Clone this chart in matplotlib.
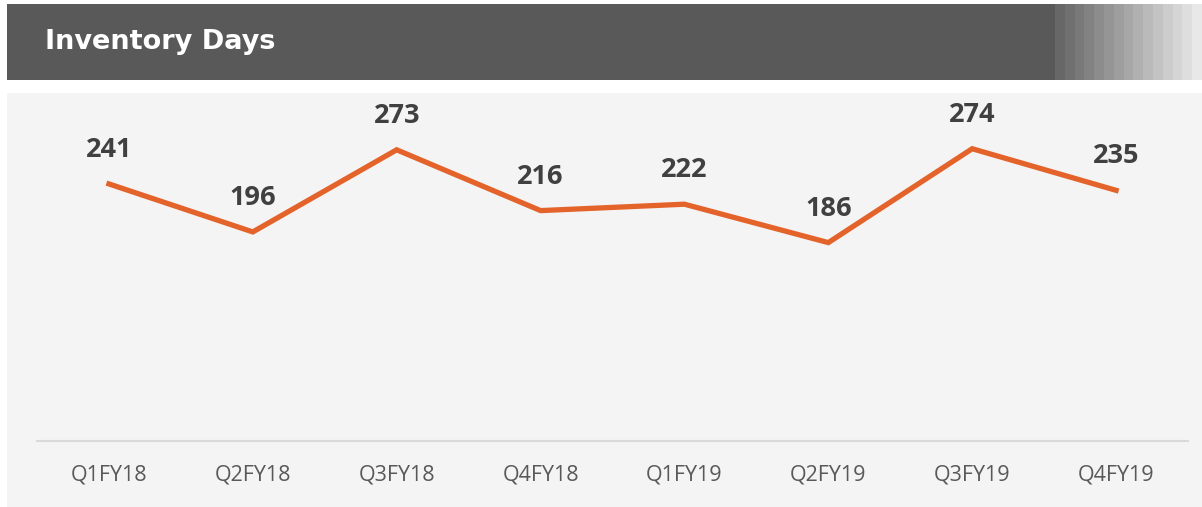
import matplotlib.pyplot as plt
from matplotlib.patches import Rectangle

quarters = ['Q1FY18', 'Q2FY18', 'Q3FY18', 'Q4FY18', 'Q1FY19', 'Q2FY19', 'Q3FY19', 'Q4FY19']
days = [241, 196, 273, 216, 222, 186, 274, 235]

W, H = 1202, 507
fig = plt.figure(figsize=(W / 100, H / 100), dpi=100)
fig.patch.set_facecolor('white')

# header band + stepped gradient on the right
fig.patches.append(Rectangle((7 / W, 1 - 80 / H), 1 - 7 / W, 76 / H, zorder=-2,
                             transform=fig.transFigure, facecolor='#595959', edgecolor='none'))
n_steps = 15
for i in range(n_steps):
    g = 0x5e + (0xe8 - 0x5e) * (i + 1) / n_steps
    c = '#%02x%02x%02x' % (int(g), int(g), int(g))
    x0 = 1055 + i * 9.8
    fig.patches.append(Rectangle((x0 / W, 1 - 80 / H), 10 / W, 76 / H, zorder=-2,
                                 transform=fig.transFigure, facecolor=c, edgecolor='none'))
fig.text(45 / W, 1 - 42 / H, 'Inventory Days', color='white', fontsize=19.5,
         fontweight='bold', family='DejaVu Sans', va='center', ha='left')

# light panel behind the chart
fig.patches.append(Rectangle((7 / W, 0), 1 - 7 / W, 1 - 93 / H, zorder=-2,
                             transform=fig.transFigure, facecolor='#f4f4f4', edgecolor='none'))

ax = fig.add_axes([37 / W, (H - 441) / H, (1188 - 37) / W, (441 - 121) / H])
ax.set_facecolor('none')
x = list(range(len(quarters)))
ax.plot(x, days, color='#e4632b', linewidth=3.8, solid_joinstyle='miter')
for xi, v in zip(x, days):
    ax.annotate(str(v), (xi, v), xytext=(0, 19.5), textcoords='offset points',
                ha='center', va='baseline', fontsize=19.5, fontweight='bold',
                color='#404040', family='Open Sans')

ax.set_xlim(-0.5, len(quarters) - 0.5)
ax.set_ylim(0, 300)
ax.set_xticks(x)
ax.set_xticklabels(quarters, fontsize=15.5, color='#595959', family='Open Sans')
ax.tick_params(axis='x', length=0, pad=17)
ax.set_yticks([])
for s in ['top', 'left', 'right']:
    ax.spines[s].set_visible(False)
ax.spines['bottom'].set_color('#d9d9d9')
ax.spines['bottom'].set_linewidth(1.5)

plt.savefig('out.png', dpi=100)
